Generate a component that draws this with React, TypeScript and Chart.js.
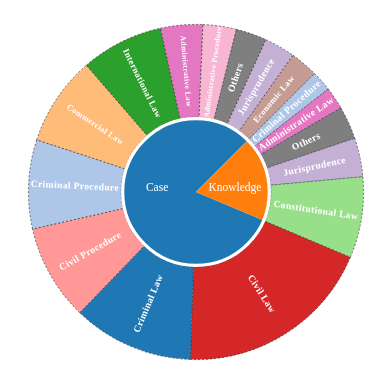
import React, { useEffect, useRef } from "react";
import { Chart, registerables } from "chart.js";

Chart.register(...registerables);

// Inner ring
const groups = ["Case", "Knowledge"];

// Outer ring: children of "Case"
const caseCategories = [
  "Civil Law",
  "Criminal Law",
  "Civil Procedure",
  "Criminal Procedure",
  "Commercial Law",
  "International Law",
  "Administrative Law",
  "Administrative Procedure",
  "Others",
  "Jurisprudence",
  "Economic Law",
];
const caseValues = [69, 42, 33.3, 30.9, 31, 28.6, 14.6, 11.6, 10.7, 10.7, 9.6];

// Outer ring: children of "Knowledge"
const knowledgeCategories = [
  "Criminal Procedure",
  "Administrative Law",
  "Others",
  "Jurisprudence",
  "Constitutional Law",
];
const knowledgeValues = [7.1, 7.8, 11.4, 13.5, 28.1];

const COLORS: Record<string, string> = {
  Case: "#1f77b4",
  Knowledge: "#ff7f0e",
  "Civil Law": "#d62728",
  "Criminal Law": "#1f77b4",
  "Civil Procedure": "#ff9896",
  "Criminal Procedure": "#aec7e8",
  "Commercial Law": "#ffbb78",
  "International Law": "#2ca02c",
  "Administrative Law": "#e377c2",
  "Administrative Procedure": "#f7b6d2",
  Others: "#7f7f7f",
  Jurisprudence: "#c5b0d5",
  "Economic Law": "#c49c94",
  "Constitutional Law": "#98df8a",
};

// label font sizes (style only) for outer ring
const caseLabelSizes = [9.6, 9.6, 9.6, 9.6, 8.3, 9, 7.6, 7.5, 9.6, 9.6, 8.6];
const knowledgeLabelSizes = [9.6, 9.6, 9.6, 9.6, 9.6];

const sum = (a: number[]) => a.reduce((s, v) => s + v, 0);

export default function App() {
  const ref = useRef<HTMLCanvasElement | null>(null);

  useEffect(() => {
    if (!ref.current) return;
    const outerLabels = [...caseCategories, ...knowledgeCategories];
    const outerValues = [...caseValues, ...knowledgeValues];
    const outerSizes = [...caseLabelSizes, ...knowledgeLabelSizes];
    const innerValues = [sum(caseValues), sum(knowledgeValues)];

    const labelPlugin = {
      id: "sunLabels",
      afterDatasetsDraw(chart: any) {
        const ctx = chart.ctx as CanvasRenderingContext2D;
        const innerMeta = chart.getDatasetMeta(1);
        const outerMeta = chart.getDatasetMeta(0);
        const a0 = innerMeta.data[0];
        if (a0) {
          ctx.save();
          ctx.beginPath();
          ctx.arc(a0.x, a0.y, a0.outerRadius - 1.5, 0, Math.PI * 2);
          ctx.strokeStyle = "#ffffff";
          ctx.lineWidth = 3.2;
          ctx.stroke();
          ctx.restore();
        }
        outerMeta.data.forEach((arc: any, i: number) => {
          const mid = (arc.startAngle + arc.endAngle) / 2;
          const r = (arc.innerRadius + arc.outerRadius) / 2;
          const x = arc.x + r * Math.cos(mid);
          const y = arc.y + r * Math.sin(mid);
          ctx.save();
          ctx.translate(x, y);
          ctx.rotate(Math.cos(mid) >= 0 ? mid : mid + Math.PI);
          ctx.fillStyle = "#ffffff";
          ctx.font = `bold ${outerSizes[i]}px "Liberation Serif", "Times New Roman", serif`;
          (ctx as any).letterSpacing = "0.35px";
          ctx.textAlign = "center";
          ctx.textBaseline = "middle";
          ctx.fillText(outerLabels[i], 0, 0);
          ctx.restore();
        });
        innerMeta.data.forEach((arc: any, i: number) => {
          const mid = (arc.startAngle + arc.endAngle) / 2;
          const r = arc.outerRadius * 0.53;
          const x = arc.x + r * Math.cos(mid);
          const y = arc.y - 4;
          ctx.save();
          ctx.fillStyle = "#ffffff";
          ctx.font = `11.5px "Liberation Serif", "Times New Roman", serif`;
          ctx.textAlign = "center";
          ctx.textBaseline = "middle";
          ctx.fillText(groups[i], x, y);
          ctx.restore();
        });
      },
    };

    const chart = new Chart(ref.current, {
      type: "doughnut",
      data: {
        labels: outerLabels,
        datasets: [
          {
            data: outerValues,
            backgroundColor: outerLabels.map((l) => COLORS[l]),
            borderColor: "rgba(50,50,50,0.85)",
            borderWidth: 0.8,
            borderDash: [2, 2],
            weight: 93,
          } as any,
          {
            data: innerValues,
            backgroundColor: groups.map((g) => COLORS[g]),
            borderWidth: 0,
            weight: 75,
          } as any,
        ],
      },
      options: {
        animation: false,
        responsive: true,
        maintainAspectRatio: false,
        cutout: 0,
        rotation: 112.9,
        layout: { padding: { left: 28, right: 17, top: 24, bottom: 21 } },
        plugins: {
          legend: { display: false },
          tooltip: { enabled: false },
        },
      } as any,
      plugins: [labelPlugin],
    });
    return () => chart.destroy();
  }, []);

  return (
    <div
      style={{
        position: "fixed",
        left: 0,
        top: 0,
        width: 381,
        height: 381,
        background: "#ffffff",
      }}
    >
      <canvas ref={ref} />
    </div>
  );
}
